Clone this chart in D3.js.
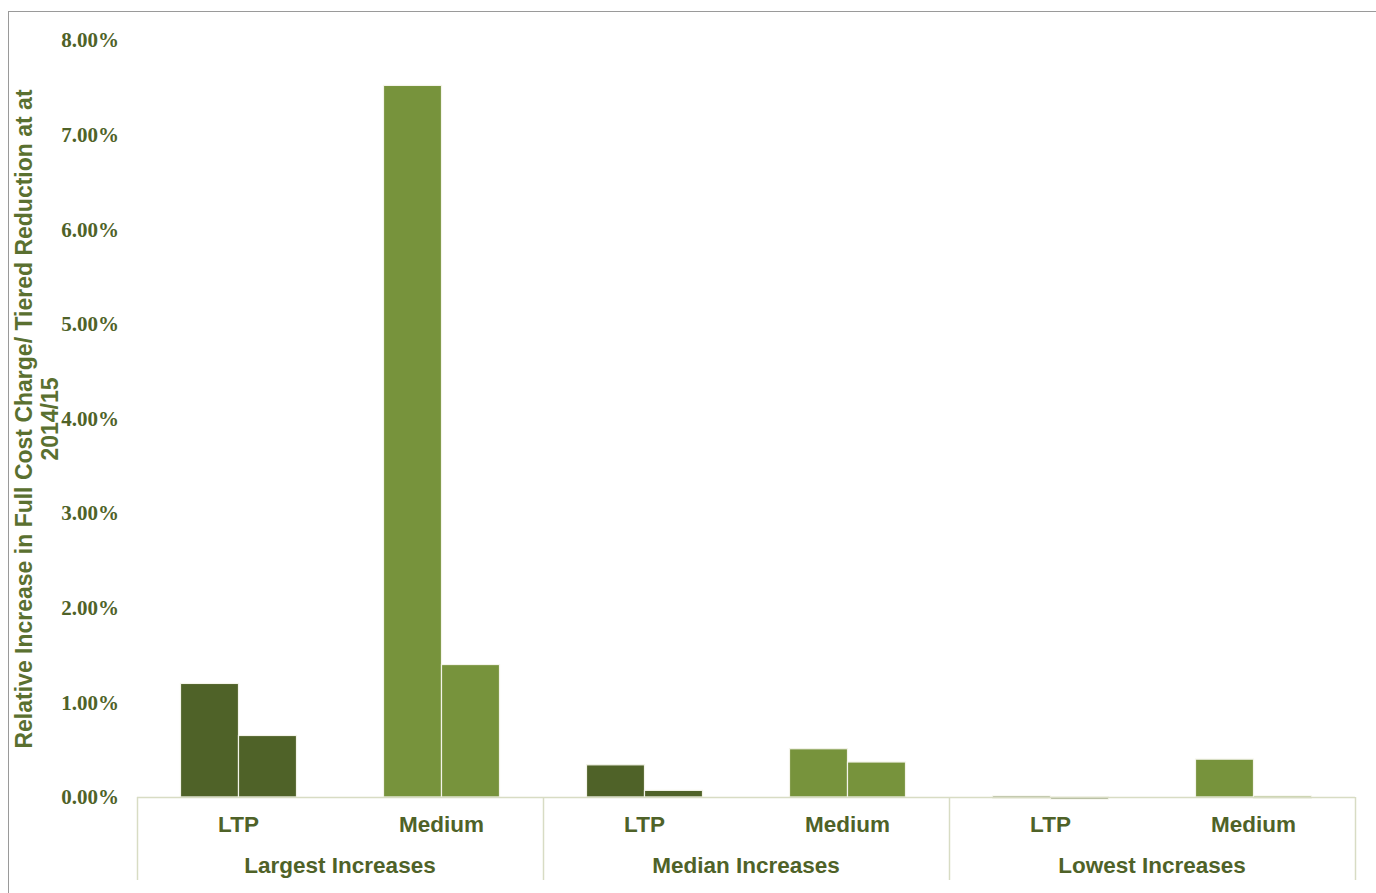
<!DOCTYPE html>
<html>
<head>
  <meta charset="utf-8">
  <title>chart</title>
  <style>
    body { margin: 0; background: #fff; }
  </style>
</head>
<body>
<script src="https://cdnjs.cloudflare.com/ajax/libs/d3/7.8.5/d3.min.js"></script>
<script>
// data
const groups = ["Largest Increases", "Median Increases", "Lowest Increases"];
const subcats = ["LTP", "Medium"];
// first and second bar of each LTP / Medium pair, in percent
const firstBar = [[1.20, 7.52], [0.34, 0.51], [0.01, 0.40]];
const secondBar = [[0.65, 1.40], [0.07, 0.37], [-0.01, 0.01]];
const yTicks = [0, 1, 2, 3, 4, 5, 6, 7, 8];

const width = 1376, height = 893;
const dark = "#4f6228", light = "#77933c";
const textCol = "#4f6228";

const svg = d3.select("body").append("svg")
  .attr("width", width).attr("height", height);

// outer frame
svg.append("rect")
  .attr("x", 8.5).attr("y", 11.5)
  .attr("width", width + 10).attr("height", height + 10)
  .attr("fill", "none").attr("stroke", "#9a9a9a");

const x0 = 137, x1 = 1355, yBase = 797, yTop = 40;

const y = d3.scaleLinear().domain([0, 8]).range([yBase, yTop]);
const xg = d3.scaleBand().domain(groups).range([x0, x1]);
const xs = d3.scaleBand().domain(subcats).range([0, xg.bandwidth()]);
const xb = d3.scaleBand().domain([0, 1]).range([0, xs.bandwidth()]).paddingOuter(0.75);

// y tick labels
svg.append("g").selectAll("text")
  .data(yTicks).enter().append("text")
  .attr("x", 119).attr("y", d => y(d))
  .attr("dy", "0.35em")
  .attr("text-anchor", "end")
  .attr("font-family", "Liberation Serif, serif")
  .attr("font-weight", "bold")
  .attr("font-size", 21)
  .attr("fill", textCol)
  .text(d => d.toFixed(2) + "%");

// y axis title
const title = svg.append("text")
  .attr("transform", `translate(32,419) rotate(-90)`)
  .attr("text-anchor", "middle")
  .attr("font-family", "Liberation Sans, Arial, sans-serif")
  .attr("font-weight", "bold")
  .attr("font-size", 23)
  .attr("fill", "#5a7030");
title.append("tspan").attr("x", 0).attr("dy", 0)
  .text("Relative Increase in Full Cost Charge/ Tiered Reduction at at");
title.append("tspan").attr("x", 0).attr("dy", 26).text("2014/15");

// bars
const bars = [];
groups.forEach((g, gi) => subcats.forEach((s, si) => {
  bars.push({ g, s, k: 0, v: firstBar[gi][si] });
  bars.push({ g, s, k: 1, v: secondBar[gi][si] });
}));

svg.append("g").selectAll("rect")
  .data(bars).enter().append("rect")
  .attr("x", d => xg(d.g) + xs(d.s) + xb(d.k))
  .attr("width", xb.bandwidth())
  .attr("y", d => Math.min(y(d.v), y(0)))
  .attr("height", d => Math.max(Math.abs(y(d.v) - y(0)), 2))
  .attr("fill", d => d.s === "LTP" ? dark : light)
  .attr("stroke", "#f4f4ea").attr("stroke-width", 1.2);

// x axis line and group dividers
const axisCol = "#d8dcc4";
svg.append("line")
  .attr("x1", x0).attr("x2", x1).attr("y1", yBase + 0.5).attr("y2", yBase + 0.5)
  .attr("stroke", axisCol).attr("stroke-width", 1.5);
svg.append("g").selectAll("line")
  .data(groups.map(g => xg(g)).concat([x1])).enter().append("line")
  .attr("x1", d => d + 0.5).attr("x2", d => d + 0.5)
  .attr("y1", yBase).attr("y2", 880)
  .attr("stroke", axisCol).attr("stroke-width", 1.5);

// subcategory labels
const sub = [];
groups.forEach(g => subcats.forEach(s => sub.push({ g, s })));
svg.append("g").selectAll("text")
  .data(sub).enter().append("text")
  .attr("x", d => xg(d.g) + xs(d.s) + xs.bandwidth() / 2)
  .attr("y", 832)
  .attr("text-anchor", "middle")
  .attr("font-family", "Liberation Sans, Arial, sans-serif")
  .attr("font-weight", "bold")
  .attr("font-size", 22.5)
  .attr("fill", textCol)
  .text(d => d.s);

// group labels
svg.append("g").selectAll("text")
  .data(groups).enter().append("text")
  .attr("x", d => xg(d) + xg.bandwidth() / 2)
  .attr("y", 873)
  .attr("text-anchor", "middle")
  .attr("font-family", "Liberation Sans, Arial, sans-serif")
  .attr("font-weight", "bold")
  .attr("font-size", 22.5)
  .attr("fill", textCol)
  .text(d => d);
</script>
</body>
</html>
